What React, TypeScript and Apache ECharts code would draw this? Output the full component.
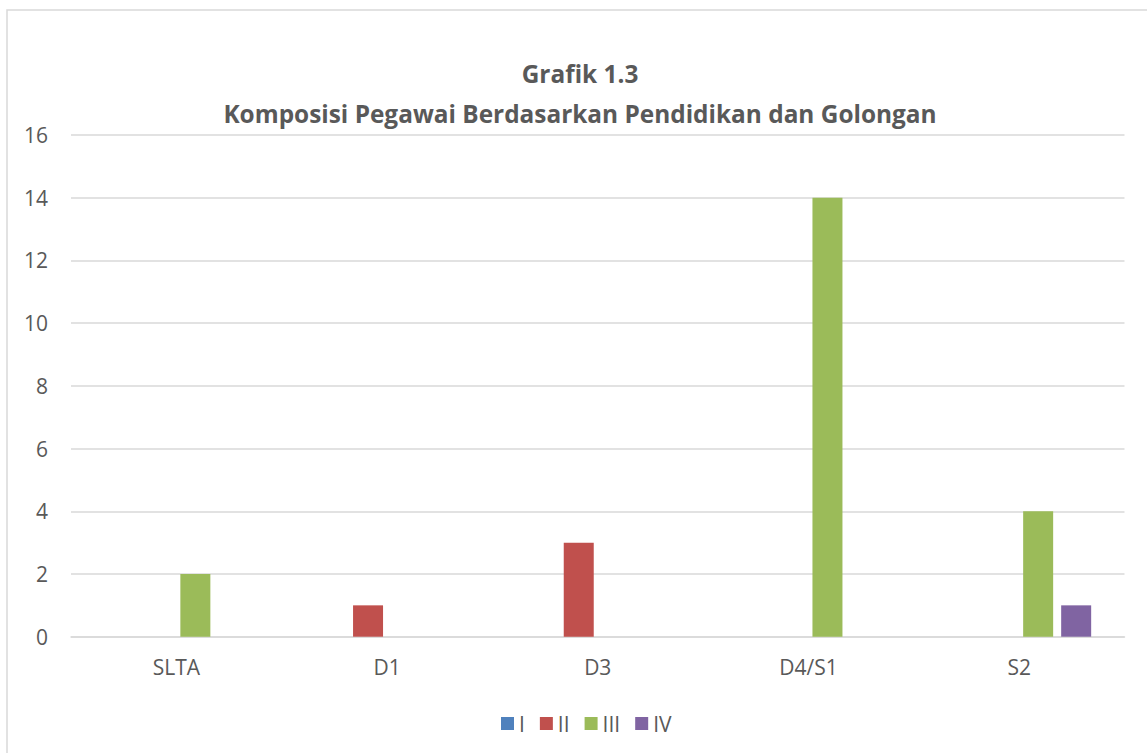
import React, { useEffect, useRef } from "react";
import * as echarts from "echarts";

const categories = ["SLTA", "D1", "D3", "D4/S1", "S2"];
const seriesNames = ["I", "II", "III", "IV"];
const valuesI = [0, 0, 0, 0, 0];
const valuesII = [0, 1, 3, 0, 0];
const valuesIII = [2, 0, 0, 14, 4];
const valuesIV = [0, 0, 0, 0, 1];
const colors = ["#4F81BD", "#C0504D", "#9BBB59", "#8064A2"];
const titleLine1 = "Grafik 1.3";
const titleLine2 = "Komposisi Pegawai Berdasarkan Pendidikan dan Golongan";

const FONT = "'Open Sans', 'Noto Sans', sans-serif";
const TXT = "#595959";

export default function App() {
  const ref = useRef<HTMLDivElement>(null);
  useEffect(() => {
    document.body.style.margin = "0";
    const chart = echarts.init(ref.current!, null, { renderer: "svg" });
    const data = [valuesI, valuesII, valuesIII, valuesIV];
    chart.setOption({
      animation: false,
      backgroundColor: "#ffffff",
      textStyle: { fontFamily: FONT },
      graphic: [
        {
          type: "rect",
          shape: { x: 7, y: 10, width: 1160, height: 760 },
          style: { fill: "none", stroke: "#d9d9d9", lineWidth: 1.5 },
          silent: true,
        },
        {
          type: "text",
          x: 580,
          y: 73,
          style: {
            text: titleLine1,
            font: `bold 24.4px ${FONT}`,
            fill: TXT,
            textAlign: "center",
            textVerticalAlign: "middle",
          },
        },
        {
          type: "text",
          x: 580,
          y: 113,
          style: {
            text: titleLine2,
            font: `bold 24.4px ${FONT}`,
            fill: TXT,
            textAlign: "center",
            textVerticalAlign: "middle",
          },
        },
      ],
      legend: {
        data: seriesNames,
        left: 496,
        top: 708,
        itemWidth: 13,
        itemHeight: 13,
        itemGap: 15,
        icon: "rect",
        textStyle: { color: TXT, fontSize: 21, fontFamily: FONT },
      },
      grid: { left: 71, right: 22.5, top: 135, bottom: 116.3, containLabel: false },
      xAxis: {
        type: "category",
        data: categories,
        axisLine: { show: true, lineStyle: { color: "#d9d9d9", width: 1.5 } },
        axisTick: { show: false },
        axisLabel: { color: TXT, fontSize: 21, fontFamily: FONT, margin: 20 },
      },
      yAxis: {
        type: "value",
        min: 0,
        max: 16,
        interval: 2,
        axisLine: { show: false },
        axisTick: { show: false },
        axisLabel: { color: TXT, fontSize: 21, fontFamily: FONT, margin: 23 },
        splitLine: { lineStyle: { color: "#d9d9d9", width: 1.5 } },
      },
      series: seriesNames.map((name, i) => ({
        name,
        type: "bar",
        data: data[i],
        barWidth: 30,
        barGap: "26.7%",
        itemStyle: { color: colors[i] },
      })),
    });
    return () => chart.dispose();
  }, []);
  return <div ref={ref} style={{ width: 1147, height: 753 }} />;
}
